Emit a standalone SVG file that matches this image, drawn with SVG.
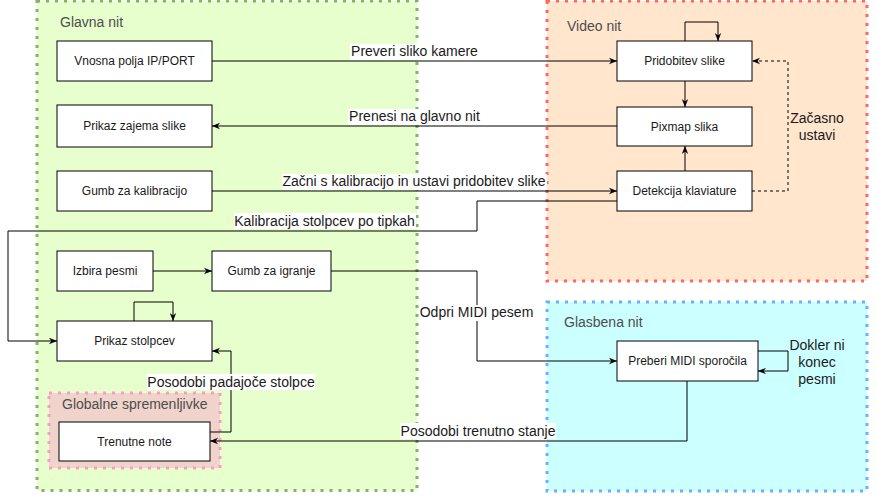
<svg xmlns="http://www.w3.org/2000/svg" width="878" height="502" viewBox="0 0 878 502">
<style>
.cont{stroke-width:3;stroke-dasharray:3 6}
.clabel{font-family:"Liberation Sans",Arial,sans-serif;font-size:14px;fill:#4d4d4d}
.node rect{fill:#fff;stroke:#000;stroke-width:1}
.node text{font-family:"Liberation Sans",Arial,sans-serif;font-size:12px;fill:#1a1a1a;text-anchor:middle}
.edge{fill:none;stroke:#000;stroke-width:1}
.dash{stroke-dasharray:3 3}
.elabel{font-family:"Liberation Sans",Arial,sans-serif;font-size:14px;fill:#1a1a1a;text-anchor:middle}
.lbg{fill:#fff}
</style>
<defs>
<marker id="arr" viewBox="0 0 10 10" refX="10" refY="5" markerWidth="8" markerHeight="8" markerUnits="userSpaceOnUse" orient="auto">
<path d="M0,1 L10,5 L0,9 L3,5 z" fill="#000"/>
</marker>
</defs>

<g id="containers">
<g id="glavna-nit">
<rect class="cont" x="37" y="1" width="380" height="489.5" fill="#e6ffcc" stroke="#82b366"/>
<text class="clabel" x="60" y="27">Glavna nit</text>
</g>
<g id="video-nit">
<rect class="cont" x="547" y="1" width="320" height="280" fill="#ffe6cc" stroke="#ff6666"/>
<text class="clabel" x="567" y="31">Video nit</text>
</g>
<g id="glasbena-nit">
<rect class="cont" x="547" y="302" width="320" height="189" fill="#ccffff" stroke="#66b2ff"/>
<text class="clabel" x="564" y="327">Glasbena nit</text>
</g>
<g id="globalne-spremenljivke">
<rect class="cont" x="49" y="393" width="171" height="75" fill="#f0d3cb" stroke="#ff99cc"/>
<text class="clabel" x="62" y="409">Globalne spremenljivke</text>
</g>
</g>

<g id="connectors">
<path class="edge" d="M212,61 H617" marker-end="url(#arr)"/>
<path class="edge" d="M617,126 H212" marker-end="url(#arr)"/>
<path class="edge" d="M212,191 H617" marker-end="url(#arr)"/>
<path class="edge" d="M617,201 H477 V231 H8 V341 H57" marker-end="url(#arr)"/>
<path class="edge" d="M685,41 V22 H718 V41" marker-end="url(#arr)"/>
<path class="edge" d="M685,81 V107" marker-end="url(#arr)"/>
<path class="edge" d="M685,171 V146" marker-end="url(#arr)"/>
<path class="edge dash" d="M752,191 H788 V61 H752" marker-end="url(#arr)"/>
<path class="edge" d="M153,271 H212" marker-end="url(#arr)"/>
<path class="edge" d="M331,271 H477 V361 H617" marker-end="url(#arr)"/>
<path class="edge" d="M134,321 V302 H173 V321" marker-end="url(#arr)"/>
<path class="edge" d="M210,432 H231 V351 H212" marker-end="url(#arr)"/>
<path class="edge" d="M687,381 V441 H210" marker-end="url(#arr)"/>
<path class="edge" d="M758,351 H788 V371 H758" marker-end="url(#arr)"/>

<rect class="lbg" x="350" y="44" width="129" height="16"/>
<text class="elabel" x="414.5" y="56">Preveri sliko kamere</text>
<rect class="lbg" x="348" y="109" width="133" height="16"/>
<text class="elabel" x="414.5" y="121">Prenesi na glavno nit</text>
<rect class="lbg" x="282" y="174" width="265" height="16"/>
<text class="elabel" x="414" y="186">Začni s kalibracijo in ustavi pridobitev slike</text>
<rect class="lbg" x="234" y="213" width="182" height="16"/>
<text class="elabel" x="324.5" y="226">Kalibracija stolpcev po tipkah</text>
<rect class="lbg" x="419" y="305" width="115" height="16"/>
<text class="elabel" x="476.5" y="317">Odpri MIDI pesem</text>
<rect class="lbg" x="147" y="374" width="168" height="16"/>
<text class="elabel" x="231" y="387">Posodobi padajoče stolpce</text>
<rect class="lbg" x="400" y="423" width="156" height="16"/>
<text class="elabel" x="478" y="436">Posodobi trenutno stanje</text>
<text class="elabel" x="817" y="123">Začasno</text>
<text class="elabel" x="817" y="139.5">ustavi</text>
<text class="elabel" x="817" y="350">Dokler ni</text>
<text class="elabel" x="817" y="367">konec</text>
<text class="elabel" x="817" y="383.5">pesmi</text>
</g>

<g id="vnosna-polja" class="node"><rect x="57" y="41" width="155" height="40"/><text x="134.5" y="65">Vnosna polja IP/PORT</text></g>
<g id="prikaz-zajema" class="node"><rect x="57" y="105" width="155" height="42"/><text x="134.5" y="130">Prikaz zajema slike</text></g>
<g id="gumb-kalibracija" class="node"><rect x="57" y="171" width="155" height="40"/><text x="134.5" y="195">Gumb za kalibracijo</text></g>
<g id="izbira-pesmi" class="node"><rect x="57" y="251" width="96" height="40"/><text x="105" y="275">Izbira pesmi</text></g>
<g id="gumb-igranje" class="node"><rect x="212" y="251" width="119" height="40"/><text x="271.5" y="275">Gumb za igranje</text></g>
<g id="prikaz-stolpcev" class="node"><rect x="57" y="321" width="155" height="40"/><text x="134.5" y="345">Prikaz stolpcev</text></g>
<g id="trenutne-note" class="node"><rect x="59" y="422" width="151" height="39"/><text x="134.5" y="446">Trenutne note</text></g>
<g id="pridobitev-slike" class="node"><rect x="617" y="41" width="135" height="40"/><text x="684.5" y="65">Pridobitev slike</text></g>
<g id="pixmap-slika" class="node"><rect x="617" y="107" width="135" height="39"/><text x="684.5" y="130.5">Pixmap slika</text></g>
<g id="detekcija-klaviature" class="node"><rect x="617" y="171" width="135" height="40"/><text x="684.5" y="195">Detekcija klaviature</text></g>
<g id="preberi-midi" class="node"><rect x="617" y="341" width="141" height="40"/><text x="687.5" y="365">Preberi MIDI sporočila</text></g>
</svg>
